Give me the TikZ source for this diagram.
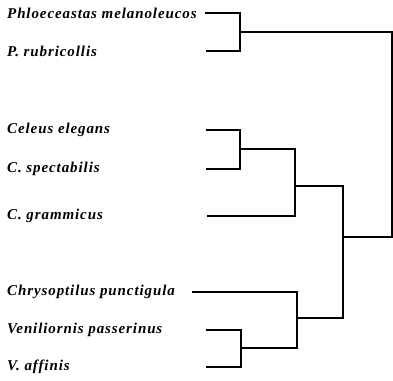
\documentclass[tikz,border=0pt]{standalone}
\usepackage{fontspec}
\setmainfont{Liberation Serif}
\begin{document}
\begin{tikzpicture}[x=1pt,y=1pt,
  lab/.style={anchor=west,inner sep=0pt,font=\fontsize{15}{17}\selectfont\bfseries\itshape\addfontfeature{LetterSpace=6}},
  br/.style={line width=1.3pt,line cap=rect}]
\useasboundingbox[fill=white] (0,0) rectangle (393,380);
% labels
\node[lab] (n1) at (7,367) {Phloeceastas melanoleucos};
\node[lab] (n2) at (7,329) {P. rubricollis};
\node[lab] (n3) at (7,250) {Celeus elegans};
\node[lab] (n4) at (7,211) {C. spectabilis};
\node[lab] (n5) at (7,164) {C. grammicus};
\node[lab] (n6) at (7,88) {Chrysoptilus punctigula};
\node[lab] (n7) at (7,50) {Veniliornis passerinus};
\node[lab] (n8) at (7,13) {V. affinis};
% leaf line starts
\coordinate (l1) at (206,367);
\coordinate (l2) at (207,329);
\coordinate (l3) at (207,250);
\coordinate (l4) at (207,211);
\coordinate (l5) at (208,164);
\coordinate (l6) at (193,88);
\coordinate (l7) at (207,50);
\coordinate (l8) at (207,13);
% internal nodes
\coordinate (A) at (240,348);
\coordinate (B) at (240,231);
\coordinate (C) at (295,194);
\coordinate (D) at (241,32);
\coordinate (E) at (297,62);
\coordinate (F) at (343,143);
\coordinate (R) at (392,348);
\draw[br] (l1) -| (A);
\draw[br] (l2) -| (A);
\draw[br] (l3) -| (B);
\draw[br] (l4) -| (B);
\draw[br] (B) -| (C);
\draw[br] (l5) -| (C);
\draw[br] (l7) -| (D);
\draw[br] (l8) -| (D);
\draw[br] (l6) -| (E);
\draw[br] (D) -| (E);
\draw[br] (C) -| (F);
\draw[br] (E) -| (F);
\draw[br] (A) -| (R);
\draw[br] (F) -| (R);
\end{tikzpicture}
\end{document}
